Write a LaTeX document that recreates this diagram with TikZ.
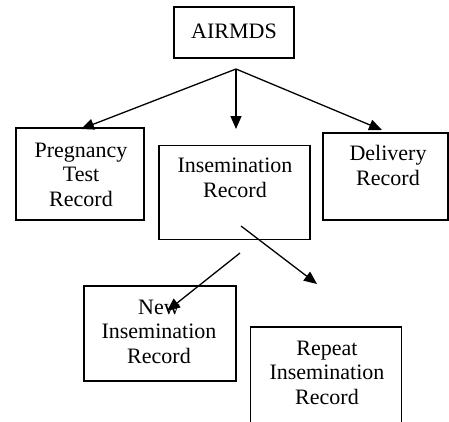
\documentclass[tikz,border=0pt]{standalone}
\usepackage{fontspec}
\setmainfont{Liberation Serif}
\usetikzlibrary{arrows.meta}
\begin{document}
\begin{tikzpicture}[x=1pt,y=-1pt,
  box/.style={draw,line width=1.4pt,inner sep=0pt},
  lbl/.style={inner sep=0pt,anchor=base,align=center,font=\fontsize{22}{24.5}\selectfont},
  arr/.style={line width=1.3pt,-{Triangle[length=13pt,width=11pt]}}]
\clip (0,0) rectangle (449,421);
\useasboundingbox (0,0) rectangle (449,421);
% boxes
\node[box,minimum width=120pt,minimum height=51pt] (airb) at (234,32.5) {};
\node[box,minimum width=128pt,minimum height=92pt] (pregb) at (80,174) {};
\node[box,minimum width=151pt,minimum height=94pt] (insb) at (234.5,192.5) {};
\node[box,minimum width=125pt,minimum height=87pt] (delb) at (385.5,176.5) {};
\node[box,minimum width=152pt,minimum height=95pt] (newb) at (160,333.5) {};
\node[box,minimum width=151pt,minimum height=98pt] (repb) at (326,376) {};
% labels (base = last line)
\node[lbl] (airt) at (234,38) {AIRMDS};
\node[lbl] (pregt) at (81,206) {Pregnancy\\Test\\Record};
\node[lbl] (inst) at (235,197) {Insemination\\Record};
\node[lbl] (delt) at (388,185) {Delivery\\Record};
\node[lbl] (newt) at (159,363) {New\\Insemination\\Record};
\node[lbl] (rept) at (327,404) {Repeat\\Insemination\\Record};
% connector ends
\coordinate (top) at (236,69);
\coordinate (pregtip) at (81,129);
\coordinate (midtip) at (236,129);
\coordinate (deltip) at (382,130);
\coordinate (s1) at (241,226);
\coordinate (e1) at (317,284);
\coordinate (s2) at (240,253);
\coordinate (e2) at (167,311);
\draw[arr] (top) -- (pregtip);
\draw[arr] (top) -- (midtip);
\draw[arr] (top) -- (deltip);
\draw[arr] (s1) -- (e1);
\draw[arr] (s2) -- (e2);
\end{tikzpicture}
\end{document}
